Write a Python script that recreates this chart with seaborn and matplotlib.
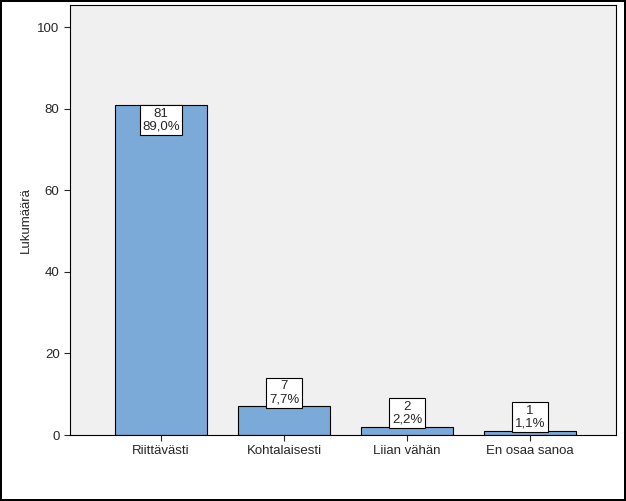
import matplotlib
matplotlib.use("Agg")
import matplotlib.pyplot as plt
import seaborn as sns
import pandas as pd

categories = ["Riittävästi", "Kohtalaisesti", "Liian vähän", "En osaa sanoa"]
counts = [81, 7, 2, 1]
percents = ["89,0%", "7,7%", "2,2%", "1,1%"]

df = pd.DataFrame({"cat": categories, "n": counts})

sns.set_style("white")
plt.rcParams["font.family"] = ["Liberation Sans", "DejaVu Sans"]

fig = plt.figure(figsize=(6.26, 5.01), dpi=100)
fig.patch.set_edgecolor("black")
fig.patch.set_linewidth(1.5)
ax = fig.add_axes([70 / 626, 66 / 501, 546 / 626, 430 / 501])
ax.set_facecolor("#F0F0F0")

sns.barplot(data=df, x="cat", y="n", color="#7BA9D8", saturation=1,
            width=0.75, edgecolor="black", linewidth=0.8, ax=ax)

for i, (c, p) in enumerate(zip(counts, percents)):
    if c > 50:
        y, va = c - 0.8, "top"
    else:
        y, va = c + 0.3, "bottom"
    ax.text(i, y, f"{c}\n{p}", ha="center", va=va, fontsize=9.5, linespacing=1.1,
            bbox=dict(boxstyle="square,pad=0.2", facecolor="white", edgecolor="black", linewidth=0.8))

ax.set_xlim(-0.74, 3.70)
ax.set_ylim(0, 105.4)
ax.set_yticks([0, 20, 40, 60, 80, 100])
ax.set_xlabel("")
ax.set_ylabel("Lukumäärä", fontsize=9.5)
ax.tick_params(axis="both", labelsize=9.5, length=4, direction="out", left=True, bottom=True)
for s in ax.spines.values():
    s.set_color("black")
    s.set_linewidth(0.8)

fig.savefig("out.png", dpi=100)
